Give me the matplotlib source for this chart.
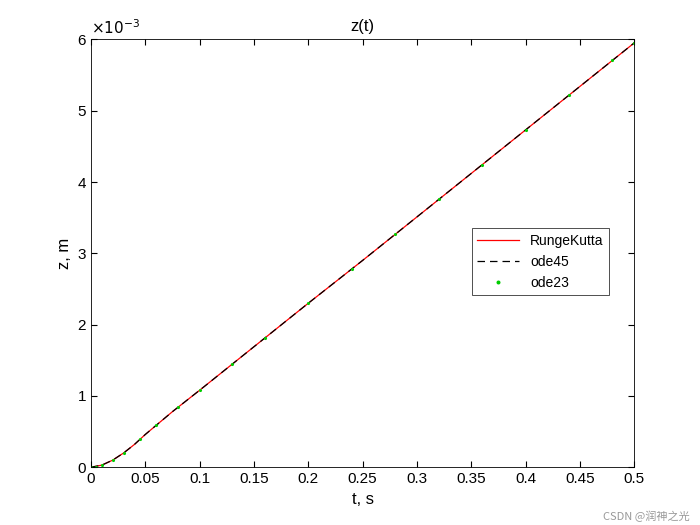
import matplotlib
matplotlib.use("Agg")
import matplotlib.pyplot as plt

# values
t_rk = [0, 0.01, 0.02, 0.03, 0.04, 0.05, 0.075, 0.1, 0.15, 0.2, 0.25, 0.3, 0.35, 0.4, 0.45, 0.5]
z_rk = [0, 0.00003, 0.00010, 0.00020, 0.00032, 0.00046, 0.00078, 0.00108, 0.00169, 0.00230,
        0.00290, 0.00351, 0.00412, 0.00473, 0.00534, 0.00595]
t_45 = [0, 0.01, 0.02, 0.03, 0.04, 0.05, 0.075, 0.1, 0.15, 0.2, 0.25, 0.3, 0.35, 0.4, 0.45, 0.5]
z_45 = [0, 0.00003, 0.00010, 0.00020, 0.00032, 0.00046, 0.00078, 0.00108, 0.00169, 0.00230,
        0.00290, 0.00351, 0.00412, 0.00473, 0.00534, 0.00595]
t_23 = [0, 0.005, 0.01, 0.02, 0.03, 0.045, 0.06, 0.08, 0.1, 0.13, 0.16, 0.2, 0.24, 0.28, 0.32,
        0.36, 0.4, 0.44, 0.48, 0.5]
z_23 = [0, 0.00001, 0.00003, 0.00010, 0.00020, 0.00039, 0.00059, 0.00084, 0.00108, 0.00145,
        0.00181, 0.00230, 0.00278, 0.00327, 0.00376, 0.00424, 0.00473, 0.00522, 0.00571, 0.00595]

plt.rcParams['font.family'] = ['Liberation Sans', 'DejaVu Sans']
fig = plt.figure(figsize=(7, 5.25), dpi=100)
ax = fig.add_axes([0.13, 0.11, 0.776, 0.815])
s = 1e3
ax.plot(t_rk, [v * s for v in z_rk], 'r-', lw=0.9, label='RungeKutta')
ax.plot(t_45, [v * s for v in z_45], 'k--', lw=0.9, dashes=(6, 4), label='ode45')
ax.plot(t_23, [v * s for v in z_23], '.', color='#00cc00', ms=2.5, label='ode23')
ax.set_xlim(0, 0.5)
ax.set_ylim(0, 6)
ax.set_xticks([0, 0.05, 0.1, 0.15, 0.2, 0.25, 0.3, 0.35, 0.4, 0.45, 0.5])
ax.set_xticklabels(['0', '0.05', '0.1', '0.15', '0.2', '0.25', '0.3', '0.35', '0.4', '0.45', '0.5'])
ax.tick_params(direction='in', top=True, right=True, labelsize=11, length=4)
for sp in ax.spines.values():
    sp.set_linewidth(0.6)
ax.set_xlabel('t, s', fontsize=12)
ax.set_ylabel('z, m', fontsize=12)
ax.set_title('z(t)', fontsize=12)
ax.text(0, 1.005, r'$\times10^{-3}$', transform=ax.transAxes, fontsize=11, va='bottom')
leg = ax.legend(loc='upper left', bbox_to_anchor=(0.688, 0.575), fancybox=False,
                edgecolor='k', fontsize=10, handlelength=3.0, markerscale=1.5)
leg.get_frame().set_linewidth(0.6)
fig.text(0.985, 0.01, 'CSDN @润神之光', fontsize=8, color='#999999', ha='right',
         family=['Noto Sans CJK SC', 'DejaVu Sans'])
fig.savefig('out.png')
